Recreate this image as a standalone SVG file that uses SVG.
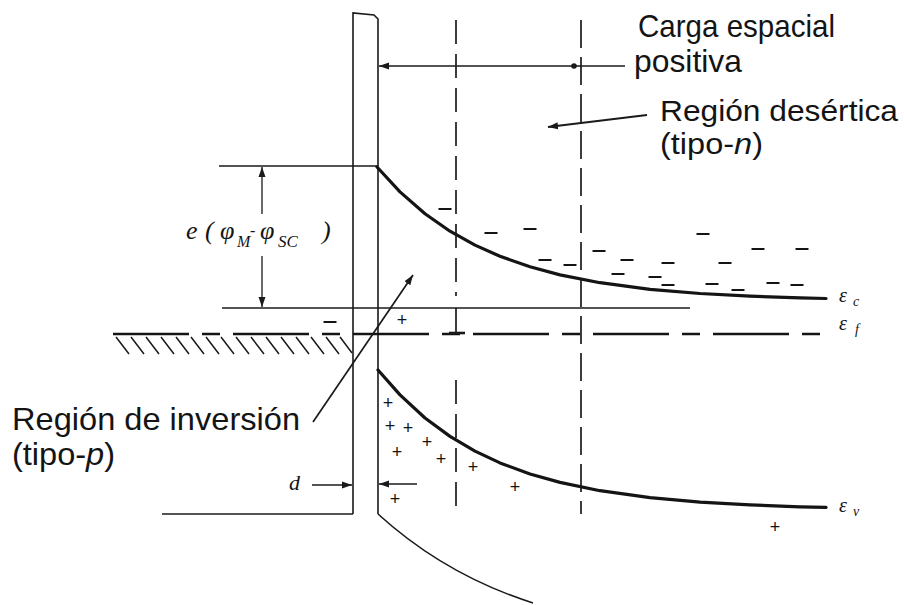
<svg xmlns="http://www.w3.org/2000/svg" width="904" height="605" viewBox="0 0 904 605">
<defs>
<style>
.thin{fill:none;stroke:#1a1a1a;stroke-width:1.3}
.plate{fill:none;stroke:#1a1a1a;stroke-width:1.6}
.band{fill:none;stroke:#141414;stroke-width:3.2;stroke-linejoin:round;stroke-linecap:round}
.vd1{fill:none;stroke:#1a1a1a;stroke-width:1.7;stroke-dasharray:24 10}
.vd2{fill:none;stroke:#1a1a1a;stroke-width:1.7;stroke-dasharray:28 9}
.fermi{fill:none;stroke:#141414;stroke-width:2.6;stroke-dasharray:76 13 18 13}
.hatch{fill:none;stroke:#1a1a1a;stroke-width:1.5}
.minus{fill:none;stroke:#141414;stroke-width:2.2}
.conn{fill:none;stroke:#1a1a1a;stroke-width:1.3}
.lbl{font-family:"Liberation Sans",Arial,sans-serif;font-size:32px;fill:#141414}
.lbl2{font-family:"Liberation Sans",Arial,sans-serif;font-size:29px;fill:#141414}
.it{font-style:italic}
.sym{font-family:"Liberation Serif","DejaVu Serif",serif;font-style:italic;fill:#141414}
.plus{font-family:"Liberation Sans",Arial,sans-serif;font-size:18px;text-anchor:middle;fill:#141414}
</style>
<marker id="ah" markerUnits="userSpaceOnUse" markerWidth="11" markerHeight="8" refX="10" refY="4" orient="auto">
<path d="M0,0.5 L10,4 L0,7.5 z" fill="#1a1a1a"/>
</marker>
</defs>
<rect width="904" height="605" fill="#ffffff"/>

<g id="metal-plate">
<path class="plate" d="M353,514 V13 L374,15 L378,19 V514"/>
<path class="plate" d="M378,514 Q445,575 533,603"/>
<line class="thin" x1="162" y1="514" x2="353" y2="514"/>
</g>

<g id="metal-fermi">
<path class="fermi" d="M113,334 H827"/>
<path class="hatch" d="M116,337 l13,17 M131,337 l13,17 M146,337 l13,17 M161,337 l13,17 M176,337 l13,17 M191,337 l13,17 M206,337 l13,17 M221,337 l13,17 M236,337 l13,17 M251,337 l13,17 M266,337 l13,17 M281,337 l13,17 M296,337 l13,17 M311,337 l13,17 M326,337 l13,17 M340,337 l12,16"/>
</g>

<g id="conduction-band">
<polyline class="band" points="377,167 400,191.9 425,213.8 450,231.2 475,245.1 500,256.3 530,266.8 560,274.9 600,282.7 650,289.3 700,293.5 750,296.2 800,297.9 826,298.5"/>
<line class="thin" x1="222" y1="308" x2="690" y2="308"/>
<line class="thin" x1="219" y1="166" x2="378" y2="166"/>
</g>

<g id="valence-band">
<polyline class="band" points="378,370 400,394.9 425,418 450,436.4 475,451.1 500,462.9 530,474 560,482.4 600,490.7 650,497.6 700,502.1 750,504.9 800,506.8 826,507.4"/>
</g>

<g id="depletion-boundaries">
<line class="vd1" x1="456" y1="20" x2="456" y2="296"/>
<line class="thin" x1="456" y1="308" x2="456" y2="333" style="stroke-width:1.7"/>
<line class="thin" x1="449" y1="333" x2="465" y2="333" style="stroke-width:2.6"/>
<line class="vd1" x1="456" y1="380" x2="456" y2="513"/>
<line class="vd2" x1="581" y1="20" x2="581" y2="514"/>
</g>

<g id="charges">
<path class="minus" d="M438.5,209 h13 M484.5,233 h13 M523.5,229 h13 M538.5,260 h13 M563.5,265 h13 M592.5,251 h13 M620.5,260 h13 M611.5,274 h13 M648.5,277 h13 M661.5,263 h13 M661.5,285 h13 M696.5,234 h13 M718.5,263 h13 M705.5,284 h13 M731.5,290 h13 M751.5,249 h13 M766.5,283 h13 M795.5,249 h13 M790.5,285 h13 M323.5,322 h13"/>
<text class="plus" x="402" y="326">+</text>
<text class="plus" x="388" y="409">+</text>
<text class="plus" x="390" y="432">+</text>
<text class="plus" x="408" y="434">+</text>
<text class="plus" x="427" y="448">+</text>
<text class="plus" x="397" y="458">+</text>
<text class="plus" x="441" y="465">+</text>
<text class="plus" x="473" y="473">+</text>
<text class="plus" x="515" y="493">+</text>
<text class="plus" x="395" y="505">+</text>
<text class="plus" x="775" y="533">+</text>
</g>

<g id="connectors">
<line class="conn" x1="625" y1="66" x2="379" y2="66" marker-end="url(#ah)"/>
<circle cx="574" cy="66" r="2.8" fill="#1a1a1a"/>
<line class="conn" x1="647" y1="115" x2="548" y2="127" style="stroke-width:1.8" marker-end="url(#ah)"/>
<line class="conn" x1="313" y1="422" x2="413" y2="275" style="stroke-width:1.7" marker-end="url(#ah)"/>
<line class="conn" x1="262" y1="214" x2="262" y2="167" marker-end="url(#ah)"/>
<line class="conn" x1="262" y1="256" x2="262" y2="307" marker-end="url(#ah)"/>
<line class="conn" x1="312" y1="485" x2="352" y2="485" marker-end="url(#ah)"/>
<line class="conn" x1="417" y1="484" x2="379" y2="484" marker-end="url(#ah)"/>
</g>

<g id="label-carga">
<text class="lbl" x="638" y="37" textLength="197" lengthAdjust="spacingAndGlyphs">Carga espacial</text>
<text class="lbl" x="634" y="72" textLength="108" lengthAdjust="spacingAndGlyphs">positiva</text>
</g>
<g id="label-desertica">
<text class="lbl2" x="660" y="121" textLength="238" lengthAdjust="spacingAndGlyphs">Región desértica</text>
<text class="lbl2" x="660" y="154" textLength="103" lengthAdjust="spacingAndGlyphs">(tipo-<tspan class="it">n</tspan>)</text>
</g>
<g id="label-inversion">
<text class="lbl" x="12" y="430" textLength="288" lengthAdjust="spacingAndGlyphs">Región de inversión</text>
<text class="lbl" x="12" y="465" textLength="103" lengthAdjust="spacingAndGlyphs">(tipo-<tspan class="it">p</tspan>)</text>
</g>
<g id="label-barrier">
<text class="sym" font-size="26" y="239"><tspan x="186">e</tspan><tspan x="205">(</tspan><tspan x="220">φ</tspan><tspan x="237" y="247" font-size="16">M</tspan><tspan x="250" y="236" font-size="16">-</tspan><tspan x="260" y="239">φ</tspan><tspan x="278" y="247" font-size="17">SC</tspan><tspan x="322" y="239">)</tspan></text>
</g>
<g id="label-d">
<text class="sym" font-size="22" x="289" y="490">d</text>
</g>
<g id="label-levels">
<text class="sym" font-size="20" x="839" y="302">ε<tspan font-size="14" x="853" y="306">c</tspan></text>
<text class="sym" font-size="20" x="839" y="330">ε<tspan font-size="14" x="855" y="334">f</tspan></text>
<text class="sym" font-size="20" x="839" y="512">ε<tspan font-size="14" x="853" y="516">v</tspan></text>
</g>
</svg>
